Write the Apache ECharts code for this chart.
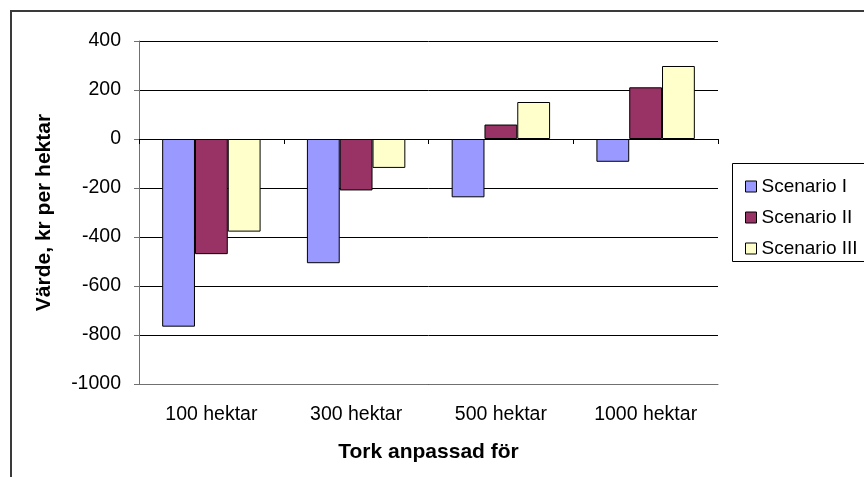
<!DOCTYPE html>
<html>
<head>
<meta charset="utf-8">
<script src="https://cdn.jsdelivr.net/npm/echarts@6/dist/echarts.min.js"></script>
<style>
html,body{margin:0;padding:0;background:#fff;}
#chart{width:864px;height:477px;}
</style>
</head>
<body>
<div id="chart"></div>
<script>
const categories = ['100 hektar', '300 hektar', '500 hektar', '1000 hektar'];
const seriesNames = ['Scenario I', 'Scenario II', 'Scenario III'];
const scenario1 = [-766, -507, -238, -93];
const scenario2 = [-470, -210, 59, 211];
const scenario3 = [-378, -118, 151, 298];
const yTicks = [-1000, -800, -600, -400, -200, 0, 200, 400];
const colors = ['#9999FF', '#993366', '#FFFFCC'];

const font = '"Liberation Sans", Arial, sans-serif';
const chart = echarts.init(document.getElementById('chart'), null, {renderer: 'canvas'});
const values = [scenario1, scenario2, scenario3];

chart.setOption({
  animation: false,
  backgroundColor: '#ffffff',
  textStyle: {fontFamily: font},
  grid: {left: 139, right: 146, top: 41, bottom: 93, containLabel: false},
  legend: {
    orient: 'vertical',
    left: 740,
    top: 172,
    itemWidth: 11,
    itemHeight: 11,
    itemGap: 12,
    icon: 'rect',
    textStyle: {fontFamily: font, fontSize: 19, color: '#000'},
    itemStyle: {borderColor: '#000', borderWidth: 1},
    data: seriesNames
  },
  graphic: [
    {type: 'rect', shape: {x: 11, y: 11, width: 1000, height: 1000}, style: {fill: 'none', stroke: '#3a3a3a', lineWidth: 2}, silent: true, z: -1},
    {type: 'rect', shape: {x: 732.5, y: 163.5, width: 300, height: 98}, style: {fill: 'none', stroke: '#000', lineWidth: 1}, silent: true}
  ],
  xAxis: [
    {
      type: 'category',
      data: categories,
      position: 'bottom',
      axisLine: {show: true, onZero: false, lineStyle: {color: '#707070', width: 1}},
      axisTick: {show: false},
      axisLabel: {fontFamily: font, fontSize: 19.5, color: '#000', margin: 21},
      name: 'Tork anpassad för',
      nameLocation: 'middle',
      nameGap: 58,
      nameTextStyle: {fontFamily: font, fontSize: 21, fontWeight: 'bold', color: '#000'}
    },
    {
      type: 'category',
      data: categories,
      position: 'bottom',
      axisLine: {show: true, onZero: true, lineStyle: {color: '#000', width: 1}},
      axisTick: {show: true, length: 5, inside: false, lineStyle: {color: '#000'}},
      axisLabel: {show: false}
    }
  ],
  yAxis: {
    type: 'value',
    min: -1000,
    max: 400,
    interval: 200,
    axisLine: {show: true, lineStyle: {color: '#707070', width: 1}},
    axisTick: {show: true, length: 5, inside: false, lineStyle: {color: '#707070'}},
    axisLabel: {fontFamily: font, fontSize: 19.5, color: '#000', margin: 18,
      formatter: v => yTicks.includes(v) ? String(v) : ''},
    splitLine: {show: true, lineStyle: {color: '#000', width: 1}},
    name: 'Värde, kr per hektar',
    nameLocation: 'middle',
    nameGap: 84,
    nameTextStyle: {fontFamily: font, fontSize: 21, fontWeight: 'bold', color: '#000'}
  },
  series: seriesNames.map((n, i) => ({
    name: n,
    type: 'bar',
    xAxisIndex: 0,
    data: values[i],
    barGap: '0%',
    barCategoryGap: '32%',
    itemStyle: {color: colors[i], borderColor: '#000', borderWidth: 1}
  }))
});
</script>
</body>
</html>
